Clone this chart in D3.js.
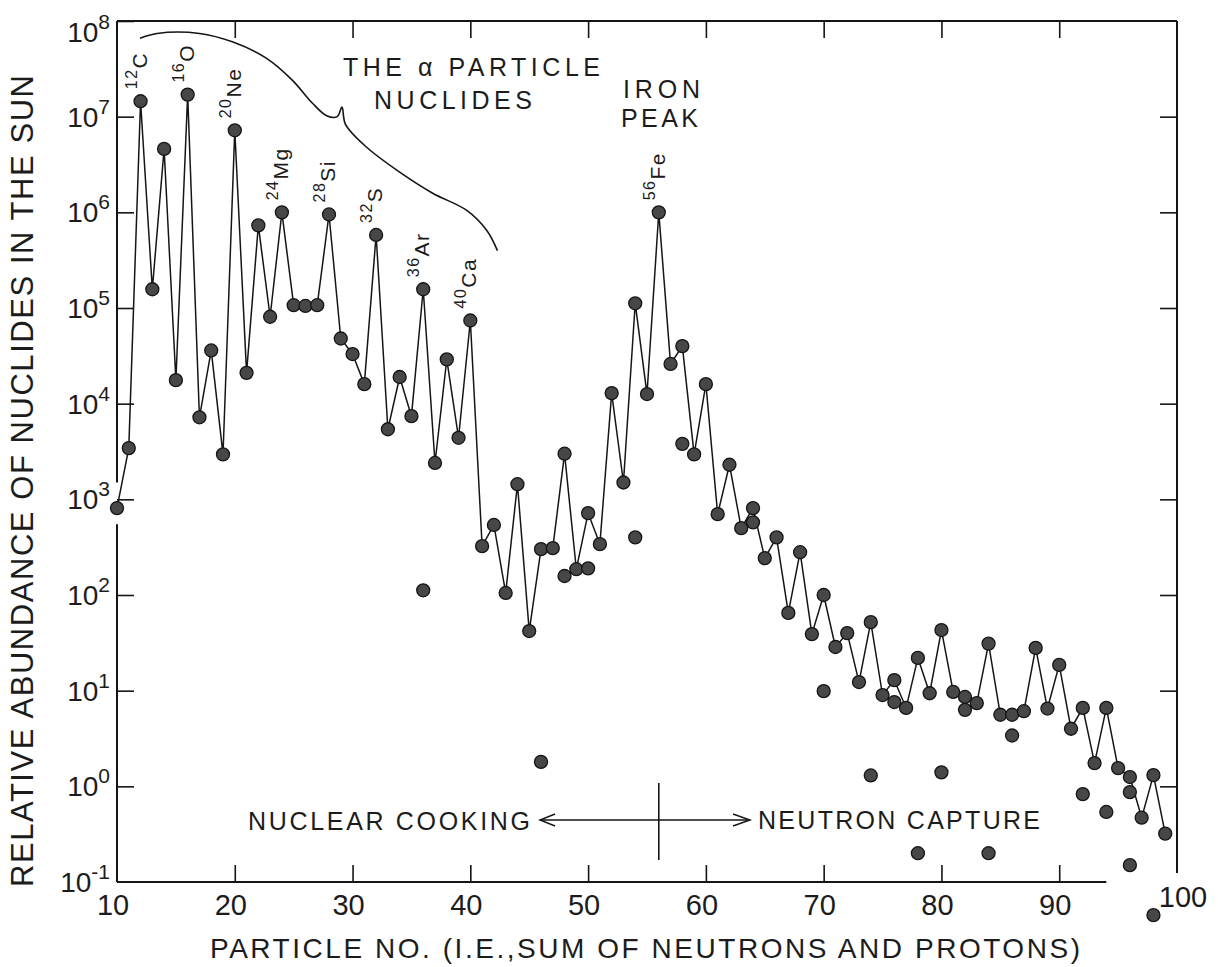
<!DOCTYPE html>
<html>
<head>
  <meta charset="utf-8">
  <style>
    body { margin: 0; background: #fff; }
    text { font-family: "Liberation Sans", Arial, sans-serif; fill: #1c1c1c; }
  </style>
</head>
<body>
<svg id="chart" width="1218" height="967"></svg>
<script src="https://d3js.org/d3.v7.min.js"></script>
<script>
// mass numbers on the main chain and their abundances (joined by the line)
var massNumbers = [10, 11, 12, 13, 14, 15, 16, 17, 18, 19,
                   20, 21, 22, 23, 24, 25, 26, 27, 28, 29,
                   30, 31, 32, 33, 34, 35, 36, 37, 38, 39,
                   40, 41, 42, 43, 44, 45, 46, 47, 48, 49,
                   50, 51, 52, 53, 54, 55, 56, 57, 58, 59,
                   60, 61, 62, 63, 64, 65, 66, 67, 68, 69,
                   70, 71, 72, 73, 74, 75, 76, 77, 78, 79,
                   80, 81, 82, 83, 84, 85, 86, 87, 88, 89,
                   90, 91, 92, 93, 94, 95, 96, 97, 98, 99];
var abundances = [810, 3430, 1.45e7, 1.57e5, 4.6e6, 1.76e4, 1.7e7, 7.2e3, 3.6e4, 2.95e3,
                  7.2e6, 2.1e4, 7.3e5, 8.1e4, 1.0e6, 1.07e5, 1.05e5, 1.07e5, 9.5e5, 4.8e4,
                  3.3e4, 1.6e4, 5.8e5, 5.4e3, 1.9e4, 7.4e3, 1.57e5, 2.4e3, 2.9e4, 4.4e3,
                  7.4e4, 324, 540, 105, 1440, 42, 302, 309, 3.0e3, 186,
                  718, 340, 1.29e4, 1.5e3, 1.12e5, 1.26e4, 1.0e6, 2.6e4, 4.0e4, 2.95e3,
                  1.6e4, 700, 2.3e3, 500, 810, 243, 400, 65, 280, 39,
                  100, 28.6, 40, 12.3, 52, 9.0, 12.9, 6.6, 22, 9.4,
                  43, 9.7, 8.6, 7.4, 31, 5.6, 5.6, 6.1, 28, 6.5,
                  18.6, 4.0, 6.6, 1.75, 6.6, 1.55, 1.25, 0.47, 1.31, 0.32];

// other isobars, drawn as loose dots
var isobarMass  = [36, 46, 48, 50, 54, 58, 64, 70, 74, 76, 78, 80, 82, 84, 86, 92, 94, 96, 96, 98];
var isobarAbund = [112, 1.8, 158, 190, 400, 3.8e3, 575, 9.9, 1.3, 7.6, 0.2, 1.4, 6.3, 0.2, 3.4, 0.83, 0.54, 0.87, 0.15, 0.045];

// labelled nuclides
var labelMass = [12, 16, 20, 24, 28, 32, 36, 40, 56];
var labelElem = ["C", "O", "Ne", "Mg", "Si", "S", "Ar", "Ca", "Fe"];

var xTickValues = [10, 20, 30, 40, 50, 60, 70, 80, 90, 100];
var yExponents = [-1, 0, 1, 2, 3, 4, 5, 6, 7, 8];

// bracket over the alpha particle nuclides: [mass number, log10 abundance]
var bracketPts = [[11.95, 7.82], [13.4, 7.87], [17.0, 7.87], [19.85, 7.78], [22.7, 7.61],
                  [24.9, 7.38], [26.6, 7.14], [27.8, 7.01], [28.7, 7.0], [29.1, 7.1],
                  [29.4, 6.92], [31.2, 6.68], [34.0, 6.42], [36.8, 6.2], [39.7, 6.02],
                  [41.4, 5.81], [42.3, 5.6]];

var margin = {top: 21, right: 41, bottom: 85, left: 117},
    width = 1218 - margin.left - margin.right,
    height = 967 - margin.top - margin.bottom;

var x = d3.scaleLinear().domain([10, 100]).range([0, width]);
var y = d3.scaleLog().domain([0.1, 1e8]).range([height, 0]);

var svg = d3.select("#chart")
  .append("g")
    .attr("transform", "translate(" + margin.left + "," + margin.top + ")");

var ink = "#151515";

// frame (left side broken at the A=10 point, bottom stops near 94)
svg.append("line").attr("x1", 0).attr("x2", width).attr("y1", 0).attr("y2", 0)
    .attr("stroke", ink).attr("stroke-width", 2);
svg.append("line").attr("x1", 0).attr("x2", 0).attr("y1", 0).attr("y2", y(1500))
    .attr("stroke", ink).attr("stroke-width", 2);
svg.append("line").attr("x1", 0).attr("x2", 0).attr("y1", y(550)).attr("y2", height)
    .attr("stroke", ink).attr("stroke-width", 2);
svg.append("line").attr("x1", 0).attr("x2", x(94)).attr("y1", height).attr("y2", height)
    .attr("stroke", ink).attr("stroke-width", 2);
svg.append("line").attr("x1", width).attr("x2", width).attr("y1", 0).attr("y2", y(0.124))
    .attr("stroke", ink).attr("stroke-width", 2);

var yTickVals = yExponents.map(function(e) { return Math.pow(10, e); });

function ticksOnly(g) {
  g.select(".domain").remove();
  g.selectAll(".tick text").remove();
  g.selectAll(".tick line").attr("stroke", ink).attr("stroke-width", 1.6);
}

svg.append("g")
    .call(d3.axisLeft(y).tickValues(yTickVals.slice(1)).tickSize(-17))
    .call(ticksOnly);

svg.append("g")
    .attr("transform", "translate(" + width + ",0)")
    .call(d3.axisRight(y).tickValues(yTickVals.slice(1, 9)).tickSize(-17))
    .call(ticksOnly);

svg.append("g")
    .call(d3.axisTop(x).tickValues(xTickValues.slice(1, 9)).tickSize(-17))
    .call(ticksOnly);

svg.append("g")
    .attr("transform", "translate(0," + height + ")")
    .call(d3.axisBottom(x).tickValues(xTickValues.slice(1, 9)).tickSize(-17))
    .call(ticksOnly);

// y tick labels: 10 with superscript exponent
var yLab = svg.append("g").selectAll("text")
    .data(yExponents)
    .enter()
    .append("text")
      .attr("x", -7)
      .attr("y", function(d) { return y(Math.pow(10, d)) + (d === 8 ? 21 : 10); })
      .attr("text-anchor", "end")
      .style("font-size", "28px");
yLab.append("tspan").text("10");
yLab.append("tspan")
    .attr("dy", -13)
    .style("font-size", "21px")
    .text(function(d) { return d < 0 ? "-" + (-d) : d; });

// x tick labels
svg.append("g").selectAll("text")
    .data(xTickValues)
    .enter()
    .append("text")
      .attr("x", function(d) { return x(d) + (d === 100 ? 6 : -4); })
      .attr("y", function(d) { return height + (d === 100 ? 25 : 33); })
      .attr("text-anchor", "middle")
      .style("font-size", "29px")
      .text(function(d) { return d; });

// axis titles
svg.append("text")
    .attr("x", 93)
    .attr("y", height + 76)
    .attr("textLength", 870)
    .attr("lengthAdjust", "spacing")
    .style("font-size", "28px")
    .text("PARTICLE NO. (I.E.,SUM OF NEUTRONS AND PROTONS)");

svg.append("text")
    .attr("transform", "translate(" + (-84) + "," + (height + 5) + ") rotate(-90)")
    .attr("textLength", 812)
    .attr("lengthAdjust", "spacing")
    .style("font-size", "31px")
    .text("RELATIVE ABUNDANCE OF NUCLIDES IN THE SUN");

// main chain line
var chain = massNumbers.map(function(m, i) { return [m, abundances[i]]; });
var line = d3.line()
    .x(function(d) { return x(d[0]); })
    .y(function(d) { return y(d[1]); });

svg.append("path")
    .datum(chain)
    .attr("fill", "none")
    .attr("stroke", ink)
    .attr("stroke-width", 1.5)
    .attr("d", line);

var isobars = isobarMass.map(function(m, i) { return [m, isobarAbund[i]]; });

svg.append("g").selectAll("circle")
    .data(chain.concat(isobars))
    .enter()
    .append("circle")
      .attr("cx", function(d) { return x(d[0]); })
      .attr("cy", function(d) { return y(d[1]); })
      .attr("r", 6.5)
      .attr("fill", "#474747")
      .attr("stroke", ink)
      .attr("stroke-width", 1.3);

// nuclide labels, written upwards
var labels = svg.append("g").selectAll("text")
    .data(labelMass)
    .enter()
    .append("text")
      .attr("transform", function(d, i) {
        var v = abundances[massNumbers.indexOf(d)];
        return "translate(" + (x(d) + 6) + "," + (y(v) - 12) + ") rotate(-90)";
      })
      .style("font-size", "21px")
      .style("letter-spacing", "1.5px");
labels.append("tspan")
    .attr("dy", -10)
    .style("font-size", "16px")
    .text(function(d) { return d; });
labels.append("tspan")
    .attr("dy", 10)
    .text(function(d, i) { return labelElem[i]; });

// bracket over the alpha particle nuclides
svg.append("path")
    .datum(bracketPts)
    .attr("fill", "none")
    .attr("stroke", ink)
    .attr("stroke-width", 1.6)
    .attr("d", d3.line()
      .curve(d3.curveCatmullRom.alpha(0.5))
      .x(function(d) { return x(d[0]); })
      .y(function(d) { return y(Math.pow(10, d[1])); }));

function note(tx, ty, len, str) {
  svg.append("text")
    .attr("x", tx)
    .attr("y", ty)
    .attr("textLength", len)
    .attr("lengthAdjust", "spacing")
    .style("font-size", "25px")
    .text(str);
}
note(226, 55, 257, "THE \u03b1 PARTICLE");
note(257, 88, 158, "NUCLIDES");
note(506, 77, 77, "IRON");
note(504, 106, 77, "PEAK");
note(131, 809, 282, "NUCLEAR COOKING");
note(641, 808, 282, "NEUTRON CAPTURE");

// process divider and arrows
var arrowY = 799;
svg.append("line")
    .attr("x1", x(56)).attr("x2", x(56))
    .attr("y1", 762).attr("y2", 839)
    .attr("stroke", ink).attr("stroke-width", 1.6);
svg.append("line")
    .attr("x1", 423).attr("x2", 633)
    .attr("y1", arrowY).attr("y2", arrowY)
    .attr("stroke", ink).attr("stroke-width", 1.4);
svg.append("path")
    .attr("d", "M438," + (arrowY - 6) + "L423," + arrowY + "L438," + (arrowY + 6))
    .attr("fill", "none").attr("stroke", ink).attr("stroke-width", 1.4);
svg.append("path")
    .attr("d", "M616," + (arrowY - 6) + "L633," + arrowY + "L616," + (arrowY + 6))
    .attr("fill", "none").attr("stroke", ink).attr("stroke-width", 1.4);
</script>
</body>
</html>
